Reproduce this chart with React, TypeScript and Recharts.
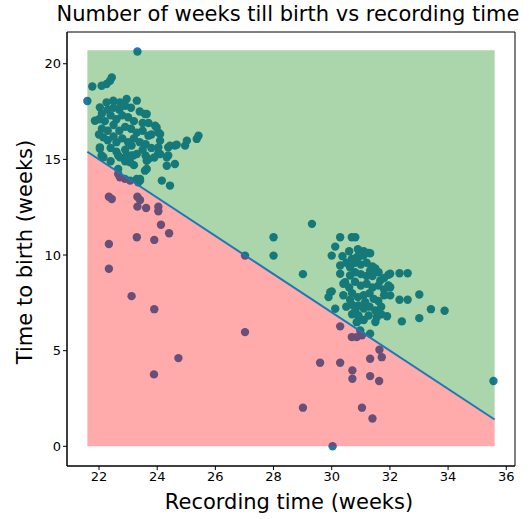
import {
  ComposedChart,
  Scatter,
  Area,
  Line,
  XAxis,
  YAxis,
  Label,
  ReferenceArea,
} from "recharts";

const TITLE = "Number of weeks till birth vs recording time";
const X_LABEL = "Recording time (weeks)";
const Y_LABEL = "Time to birth (weeks)";

const xTicks = [22, 24, 26, 28, 30, 32, 34, 36];
const yTicks = [0, 5, 10, 15, 20];

// boundary of the shaded regions
const edgeWeeks = [21.6, 35.6];
const edgeLine = [15.4, 1.4];
const bandTop = 20.7;
const bandBottom = 0;

// early recordings (around 22-25 weeks)
const earlyRec = [
  21.77, 22.09, 22.26, 22.38, 22.44, 22.03, 22.26, 22.49, 22.72, 22.95, 23.3,
  21.86, 23.58, 23.64, 23.93, 23.98, 24.04, 23.7, 24.1, 24.1, 24.04, 24.04,
  24.38, 24.44, 24.61, 24.67, 24.96, 25.02, 25.36, 25.42, 24.38, 24.33, 24.1,
  23.7, 23.3, 23.12, 22.72, 22.03, 22.15, 22.15, 24.33, 24.61, 23.64, 22.66,
  23.41, 24.16, 24.44, 23.35, 22.03, 22.09, 22.66, 22.95, 23.18, 23.07, 23.64,
  23.58, 23.3, 23.41, 22.1, 22.3, 22.5, 22.7, 22.9, 23.1, 23.4, 22.0, 22.2,
  22.4, 22.6, 22.8, 23.0, 23.2, 23.5, 23.7, 22.1, 22.3, 22.5, 22.7, 22.9, 23.1,
  23.3, 23.5, 23.8, 22.0, 22.3, 22.5, 22.6, 22.8, 23.0, 23.2, 23.4, 23.6, 23.8,
  22.4, 22.6, 22.9, 23.1, 23.5, 23.6, 23.9, 22.4, 22.9, 23.2,
];
const earlyBirth = [
  18.81, 18.85, 18.94, 19.11, 19.28, 17.72, 17.98, 18.07, 17.98, 18.16, 18.07,
  17.02, 17.37, 17.37, 16.76, 16.67, 16.41, 16.24, 15.98, 16.33, 15.63, 15.34,
  15.63, 15.72, 15.72, 15.77, 15.72, 15.98, 16.07, 16.24, 15.2, 15.11, 15.28,
  15.02, 15.28, 15.72, 15.11, 15.55, 15.11, 16.15, 14.67, 14.76, 14.5, 14.5,
  13.98, 13.89, 13.63, 13.8, 15.63, 15.2, 15.2, 15.2, 15.2, 14.85, 14.93, 14.41,
  13.98, 13.89, 17.4, 17.6, 17.7, 17.6, 17.8, 17.7, 17.5, 17.1, 17.0, 17.3,
  17.1, 17.3, 17.2, 17.0, 16.9, 16.9, 16.6, 16.5, 16.8, 16.5, 16.7, 16.6, 16.4,
  16.5, 16.3, 16.3, 16.0, 16.2, 15.9, 16.1, 15.9, 16.1, 15.9, 15.8, 15.6, 15.6,
  15.4, 15.5, 15.2, 15.5, 15.2, 15.1, 14.9, 14.9, 14.7,
];

// late recordings (around 28-34 weeks)
const lateRec = [
  29.32, 28.0, 28.0, 29.01, 30.29, 30.69, 30.81, 30.12, 30.0, 31.32, 31.27,
  30.92, 31.09, 30.37, 30.69, 30.86, 30.29, 30.29, 30.46, 30.63, 30.63, 30.4,
  32.01, 32.33, 32.61, 31.95, 31.32, 31.61, 31.67, 31.95, 32.01, 33.01, 32.33,
  32.61, 32.01, 33.41, 33.88, 33.01, 32.41, 31.9, 31.55, 31.27, 30.92, 31.32,
  30.98, 30.92, 31.44, 31.15, 30.92, 30.0, 29.95, 29.89, 30.12, 30.63, 30.81,
  30.86, 30.6, 30.9, 31.1, 30.5, 30.8, 31.0, 31.2, 31.4, 31.5, 30.8, 31.0, 31.2,
  31.4, 31.8, 30.6, 30.8, 31.0, 31.2, 31.4, 31.6, 31.8, 30.4, 30.7, 30.9, 31.1,
  31.3, 31.6, 31.8, 30.5, 30.7, 31.1, 31.3, 31.5, 31.7, 30.7, 31.1, 31.5, 31.7,
];
const lateBirth = [
  11.63, 10.93, 9.97, 9.0, 10.93, 10.93, 10.93, 10.44, 9.97, 10.09, 10.11, 9.89,
  9.97, 9.94, 9.8, 9.89, 9.45, 9.02, 8.58, 9.36, 8.93, 8.5, 9.02, 9.05, 9.05,
  8.97, 9.19, 9.1, 8.67, 8.41, 8.32, 7.94, 7.66, 7.66, 7.89, 7.17, 7.09, 6.7,
  6.53, 6.8, 6.75, 6.84, 6.84, 5.89, 6.06, 6.58, 7.71, 7.54, 7.36, 8.1, 8.06,
  7.8, 7.19, 7.66, 7.1, 6.49, 10.2, 10.3, 10.2, 9.6, 9.6, 9.5, 9.6, 9.4, 9.3,
  9.1, 9.0, 8.9, 8.9, 8.8, 8.3, 8.6, 8.4, 8.5, 8.3, 8.4, 8.2, 7.9, 8.0, 7.8,
  7.9, 8.0, 7.6, 7.9, 7.3, 7.4, 7.2, 7.3, 7.1, 7.3, 6.9, 6.6, 6.5, 6.9,
];

// points below the boundary and the outliers
const lowRec = [
  22.34, 22.44, 23.32, 23.41, 23.32, 23.62, 24.04, 24.04, 24.13, 24.41, 22.34,
  23.3, 23.9, 22.34, 23.12, 23.9, 24.73, 23.89, 22.66, 22.89, 23.07, 22.72,
  27.02, 27.02, 29.01, 30.03, 29.6, 30.29, 30.71, 30.71, 31.32, 31.63, 31.04,
  31.4, 31.32, 31.72, 31.64, 30.29, 30.69, 30.86, 31.04, 21.6, 23.32, 35.56,
];
const lowBirth = [
  13.05, 12.93, 13.05, 12.88, 12.53, 12.46, 12.53, 12.29, 11.58, 11.14, 10.58,
  10.93, 10.79, 9.28, 7.85, 7.17, 4.61, 3.76, 14.24, 13.98, 13.89, 14.06, 9.97,
  5.97, 2.02, 0.0, 4.37, 4.37, 3.97, 3.53, 3.67, 3.41, 2.02, 1.45, 4.58, 4.66,
  5.05, 6.27, 5.71, 5.71, 5.8, 18.05, 20.64, 3.41,
];

const toPoints = (xs: number[], ys: number[]) =>
  xs.map((x, i) => ({ x, y: ys[i] }));

const points = [
  ...toPoints(earlyRec, earlyBirth),
  ...toPoints(lateRec, lateBirth),
  ...toPoints(lowRec, lowBirth),
];

const bandData = edgeWeeks.map((x, i) => ({
  x,
  line: edgeLine[i],
  below: [bandBottom, edgeLine[i]],
  above: [edgeLine[i], bandTop],
}));

const FONT = "DejaVu Sans, sans-serif";
const X_DOMAIN = [20.9, 36.3];
const Y_DOMAIN = [-1.03, 21.66];

const Dot = (props: any) => (
  <circle cx={props.cx} cy={props.cy} r={4.2} fill="#1f77b4" />
);

export default function App() {
  return (
    <div
      style={{
        position: "absolute",
        left: 0,
        top: 0,
        width: 529,
        height: 519,
        background: "#fff",
        fontFamily: FONT,
      }}
    >
      <div
        style={{
          position: "absolute",
          left: 0,
          width: 576,
          top: 2,
          textAlign: "center",
          fontSize: 21,
          color: "#000",
          whiteSpace: "nowrap",
        }}
      >
        {TITLE}
      </div>
      <ComposedChart
        width={529}
        height={519}
        data={bandData}
        margin={{ top: 32, right: 14, bottom: 0, left: 0 }}
      >
        <XAxis
          type="number"
          dataKey="x"
          domain={X_DOMAIN}
          ticks={xTicks}
          allowDataOverflow
          height={53}
          tickSize={4}
          tickMargin={2}
          stroke="#000"
          tick={{ fill: "#000", fontSize: 13, fontFamily: FONT }}
        >
          <Label
            content={() => (
              <text
                x={289}
                y={509}
                textAnchor="middle"
                fontSize={21}
                fontFamily={FONT}
                fill="#000"
              >
                {X_LABEL}
              </text>
            )}
          />
        </XAxis>
        <YAxis
          type="number"
          domain={Y_DOMAIN}
          ticks={yTicks}
          allowDataOverflow
          width={67}
          tickSize={4}
          tickMargin={2}
          stroke="#000"
          tick={{ fill: "#000", fontSize: 13, fontFamily: FONT }}
        >
          <Label
            content={() => (
              <text
                x={32}
                y={252}
                transform="rotate(-90 32 252)"
                textAnchor="middle"
                fontSize={21}
                fontFamily={FONT}
                fill="#000"
              >
                {Y_LABEL}
              </text>
            )}
          />
        </YAxis>
        <Scatter data={points} dataKey="y" shape={Dot} isAnimationActive={false} />
        <Area
          type="linear"
          dataKey="above"
          stroke="none"
          fill="#008000"
          fillOpacity={0.33}
          isAnimationActive={false}
          zIndex={650}
        />
        <Area
          type="linear"
          dataKey="below"
          stroke="none"
          fill="#ff0000"
          fillOpacity={0.33}
          isAnimationActive={false}
          zIndex={650}
        />
        <Line
          type="linear"
          dataKey="line"
          stroke="#1f77b4"
          strokeWidth={2}
          dot={false}
          isAnimationActive={false}
          zIndex={700}
        />
        <ReferenceArea
          x1={X_DOMAIN[0]}
          x2={X_DOMAIN[1]}
          y1={Y_DOMAIN[0]}
          y2={Y_DOMAIN[1]}
          fill="none"
          stroke="#000"
          strokeWidth={1}
          ifOverflow="visible"
        />
      </ComposedChart>
    </div>
  );
}
